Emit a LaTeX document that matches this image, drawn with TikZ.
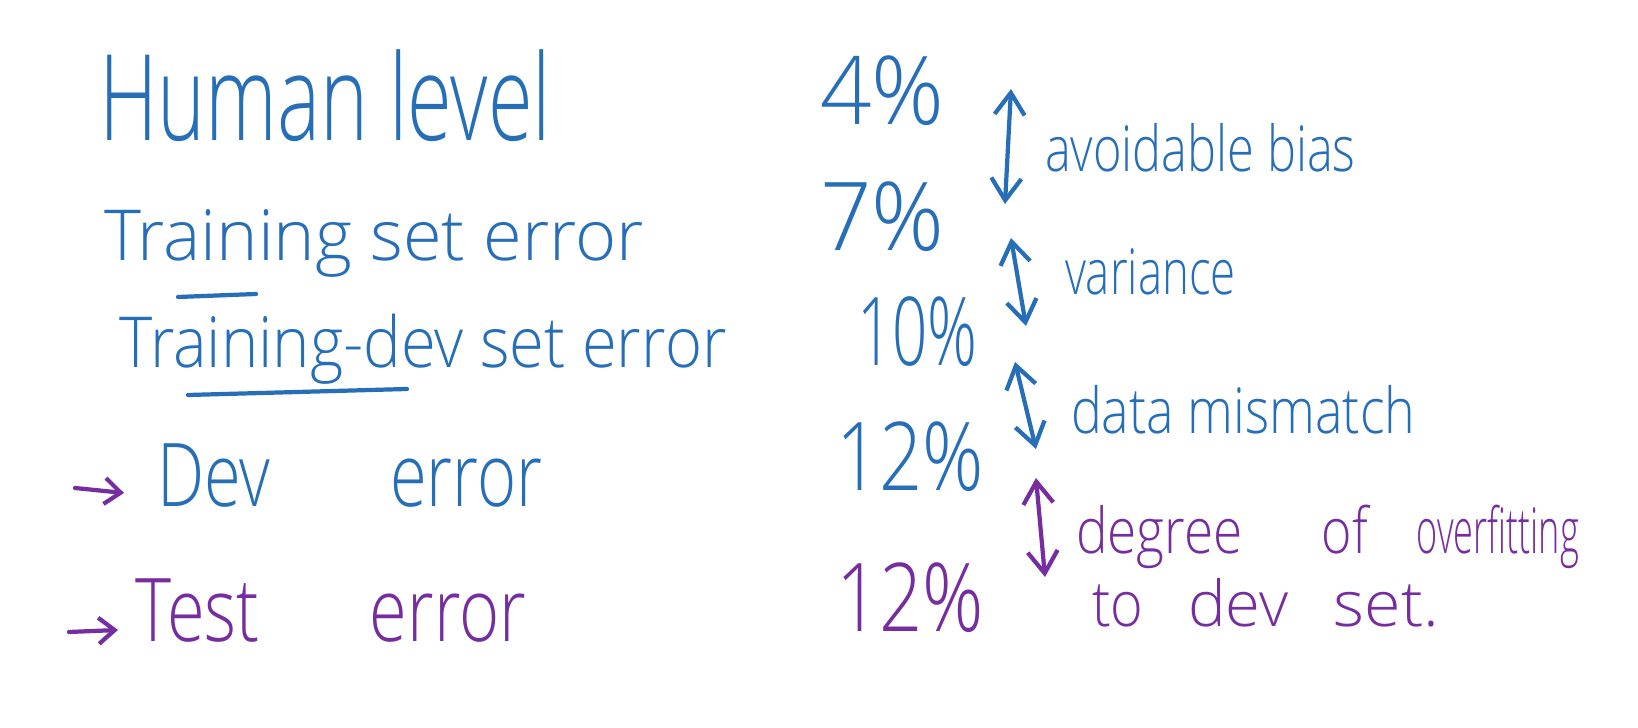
\documentclass[tikz,border=0pt]{standalone}
\usepackage{graphicx}
\usepackage{fontspec}
\setmainfont{Open Sans}[UprightFont=* Light]
\usetikzlibrary{arrows.meta}
\definecolor{inkblue}{RGB}{38,110,183}
\definecolor{inkpurple}{RGB}{118,45,160}
\newcommand{\hwsz}[2]{\fontsize{#1}{#1}\selectfont #2}
\newcommand{\sx}[2]{\scalebox{#1}[1]{#2}}
\begin{document}
\begin{tikzpicture}[x=0.01cm,y=-0.01cm,
  hw/.style={anchor=base west, inner sep=0pt, outer sep=0pt},
  blueink/.style={text=inkblue},
  purpleink/.style={text=inkpurple},
  stroke/.style={line width=1.2pt, line cap=round, line join=round},
  gap/.style={stroke, {Straight Barb[length=2.2mm,width=3mm]}-{Straight Barb[length=2.2mm,width=3mm]}},
  pointer/.style={stroke, -{Straight Barb[length=1.6mm,width=2.6mm]}}]
\path[use as bounding box, fill=white] (0,0) rectangle (1638,728);

% left column
\node[hw, blueink] (human) at (99,141) {\hwsz{34pt}{\sx{0.68}{Human level}}};
\node[hw, blueink] (train) at (104,261) {\hwsz{20pt}{\sx{1.0}{Training set error}}};
\node[hw, blueink] (traindev) at (120,368) {\hwsz{20pt}{\sx{0.9}{Training-dev set error}}};
\node[hw, blueink] (dev) at (157,507) {\hwsz{25pt}{\sx{0.76}{Dev}\hspace{1.2cm}\sx{0.76}{error}}};
\node[hw, purpleink] (test) at (136,642) {\hwsz{25pt}{\sx{0.78}{Test}\hspace{1.1cm}\sx{0.78}{error}}};

% underlines
\coordinate (u1a) at (178,297);
\coordinate (u1b) at (256,294);
\draw[stroke, inkblue] (u1a) -- (u1b);
\coordinate (u2a) at (188,395);
\coordinate (u2b) at (407,389);
\draw[stroke, inkblue] (u2a) -- (u2b);

% pointers
\coordinate (p1a) at (75,488);
\coordinate (p1b) at (124,493);
\draw[pointer, inkpurple] (p1a) -- (p1b);
\coordinate (p2a) at (69,632);
\coordinate (p2b) at (118,630);
\draw[pointer, inkpurple] (p2a) -- (p2b);

% numbers
\node[hw, blueink] (n1) at (820,125) {\hwsz{27pt}{\sx{0.95}{4\%}}};
\node[hw, blueink] (n2) at (820,251) {\hwsz{27pt}{\sx{0.95}{7\%}}};
\node[hw, blueink] (n3) at (857,366) {\hwsz{27pt}{\sx{0.65}{10\%}}};
\node[hw, blueink] (n4) at (836,491) {\hwsz{27pt}{\sx{0.8}{12\%}}};
\node[hw, purpleink] (n5) at (836,632) {\hwsz{27pt}{\sx{0.8}{12\%}}};

% gap arrows
\coordinate (a1t) at (1011,89);
\coordinate (a1b) at (1005,204);
\draw[gap, inkblue] (a1t) -- (a1b);
\coordinate (a2t) at (1011,238);
\coordinate (a2b) at (1026,326);
\draw[gap, inkblue] (a2t) -- (a2b);
\coordinate (a3t) at (1015,362);
\coordinate (a3b) at (1036,449);
\draw[gap, inkblue] (a3t) -- (a3b);
\coordinate (a4t) at (1036,478);
\coordinate (a4b) at (1045,577);
\draw[gap, inkpurple] (a4t) -- (a4b);

% labels
\node[hw, blueink] (l1) at (1045,172) {\hwsz{18pt}{\sx{0.77}{avoidable bias}}};
\node[hw, blueink] (l2) at (1065,295) {\hwsz{18pt}{\sx{0.72}{variance}}};
\node[hw, blueink] (l3) at (1071,434) {\hwsz{18pt}{\sx{0.82}{data mismatch}}};
\node[hw, purpleink] (l4) at (1076,554) {\hwsz{18pt}{\sx{0.84}{degree}\hspace{0.79cm}\sx{0.82}{of}\hspace{0.49cm}\sx{0.57}{overfitting}}};
\node[hw, purpleink] (l5) at (1092,627) {\hwsz{18pt}{\sx{0.88}{to}\hspace{0.45cm}dev\hspace{0.45cm}\sx{1.05}{set.}}};
\end{tikzpicture}
\end{document}
